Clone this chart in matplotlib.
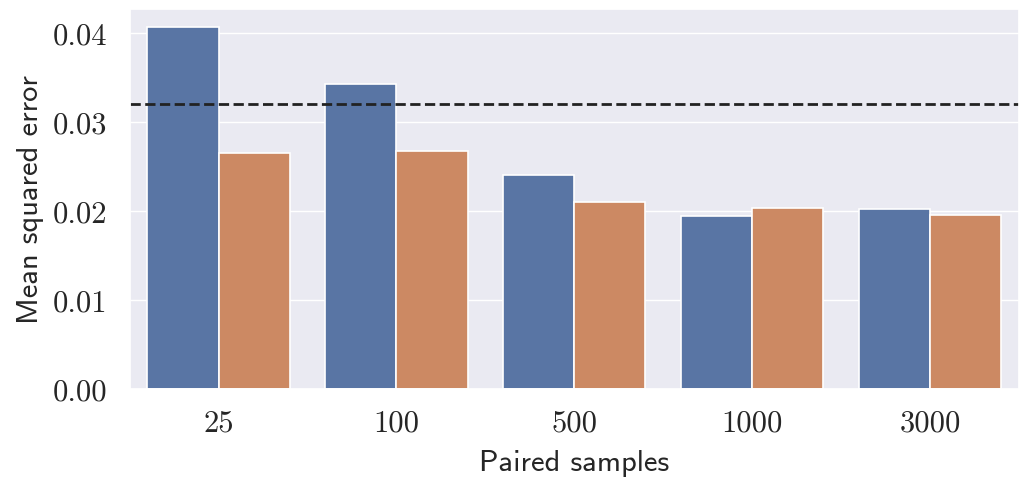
import matplotlib
matplotlib.use("Agg")
import matplotlib.pyplot as plt
import seaborn as sns
import pandas as pd

samples = ["25", "100", "500", "1000", "3000"]
mse_a = [0.0407, 0.0343, 0.0240, 0.0194, 0.0202]
mse_b = [0.0265, 0.0267, 0.0210, 0.0203, 0.0195]
baseline = 0.0320

sns.set_theme(style="darkgrid")
plt.rcParams["font.family"] = ["cmss10", "DejaVu Sans"]
plt.rcParams["axes.unicode_minus"] = False

df = pd.DataFrame({
    "samples": samples * 2,
    "mse": mse_a + mse_b,
    "method": ["a"] * len(samples) + ["b"] * len(samples),
})

fig, ax = plt.subplots(figsize=(10.21, 4.81), dpi=100)
sns.barplot(data=df, x="samples", y="mse", hue="method", ax=ax,
            edgecolor="white", linewidth=1.2, legend=False)
ax.axhline(baseline, color="#222222", linestyle="--", linewidth=2)

ax.set_yticks([0.0, 0.01, 0.02, 0.03, 0.04])
ax.set_yticklabels(["0.00", "0.01", "0.02", "0.03", "0.04"], family="cmr10")
ax.set_xticks(range(len(samples)))
ax.set_xticklabels(samples, family="cmr10")
ax.tick_params(axis="x", labelsize=22, pad=9)
ax.tick_params(axis="y", labelsize=22, pad=10)
ax.set_xlabel("Paired samples", fontsize=22, labelpad=9)
ax.set_ylabel("Mean squared error", fontsize=22, labelpad=6)

fig.subplots_adjust(left=0.127, right=0.998, top=0.98, bottom=0.19)
fig.savefig("out.png", dpi=100)
